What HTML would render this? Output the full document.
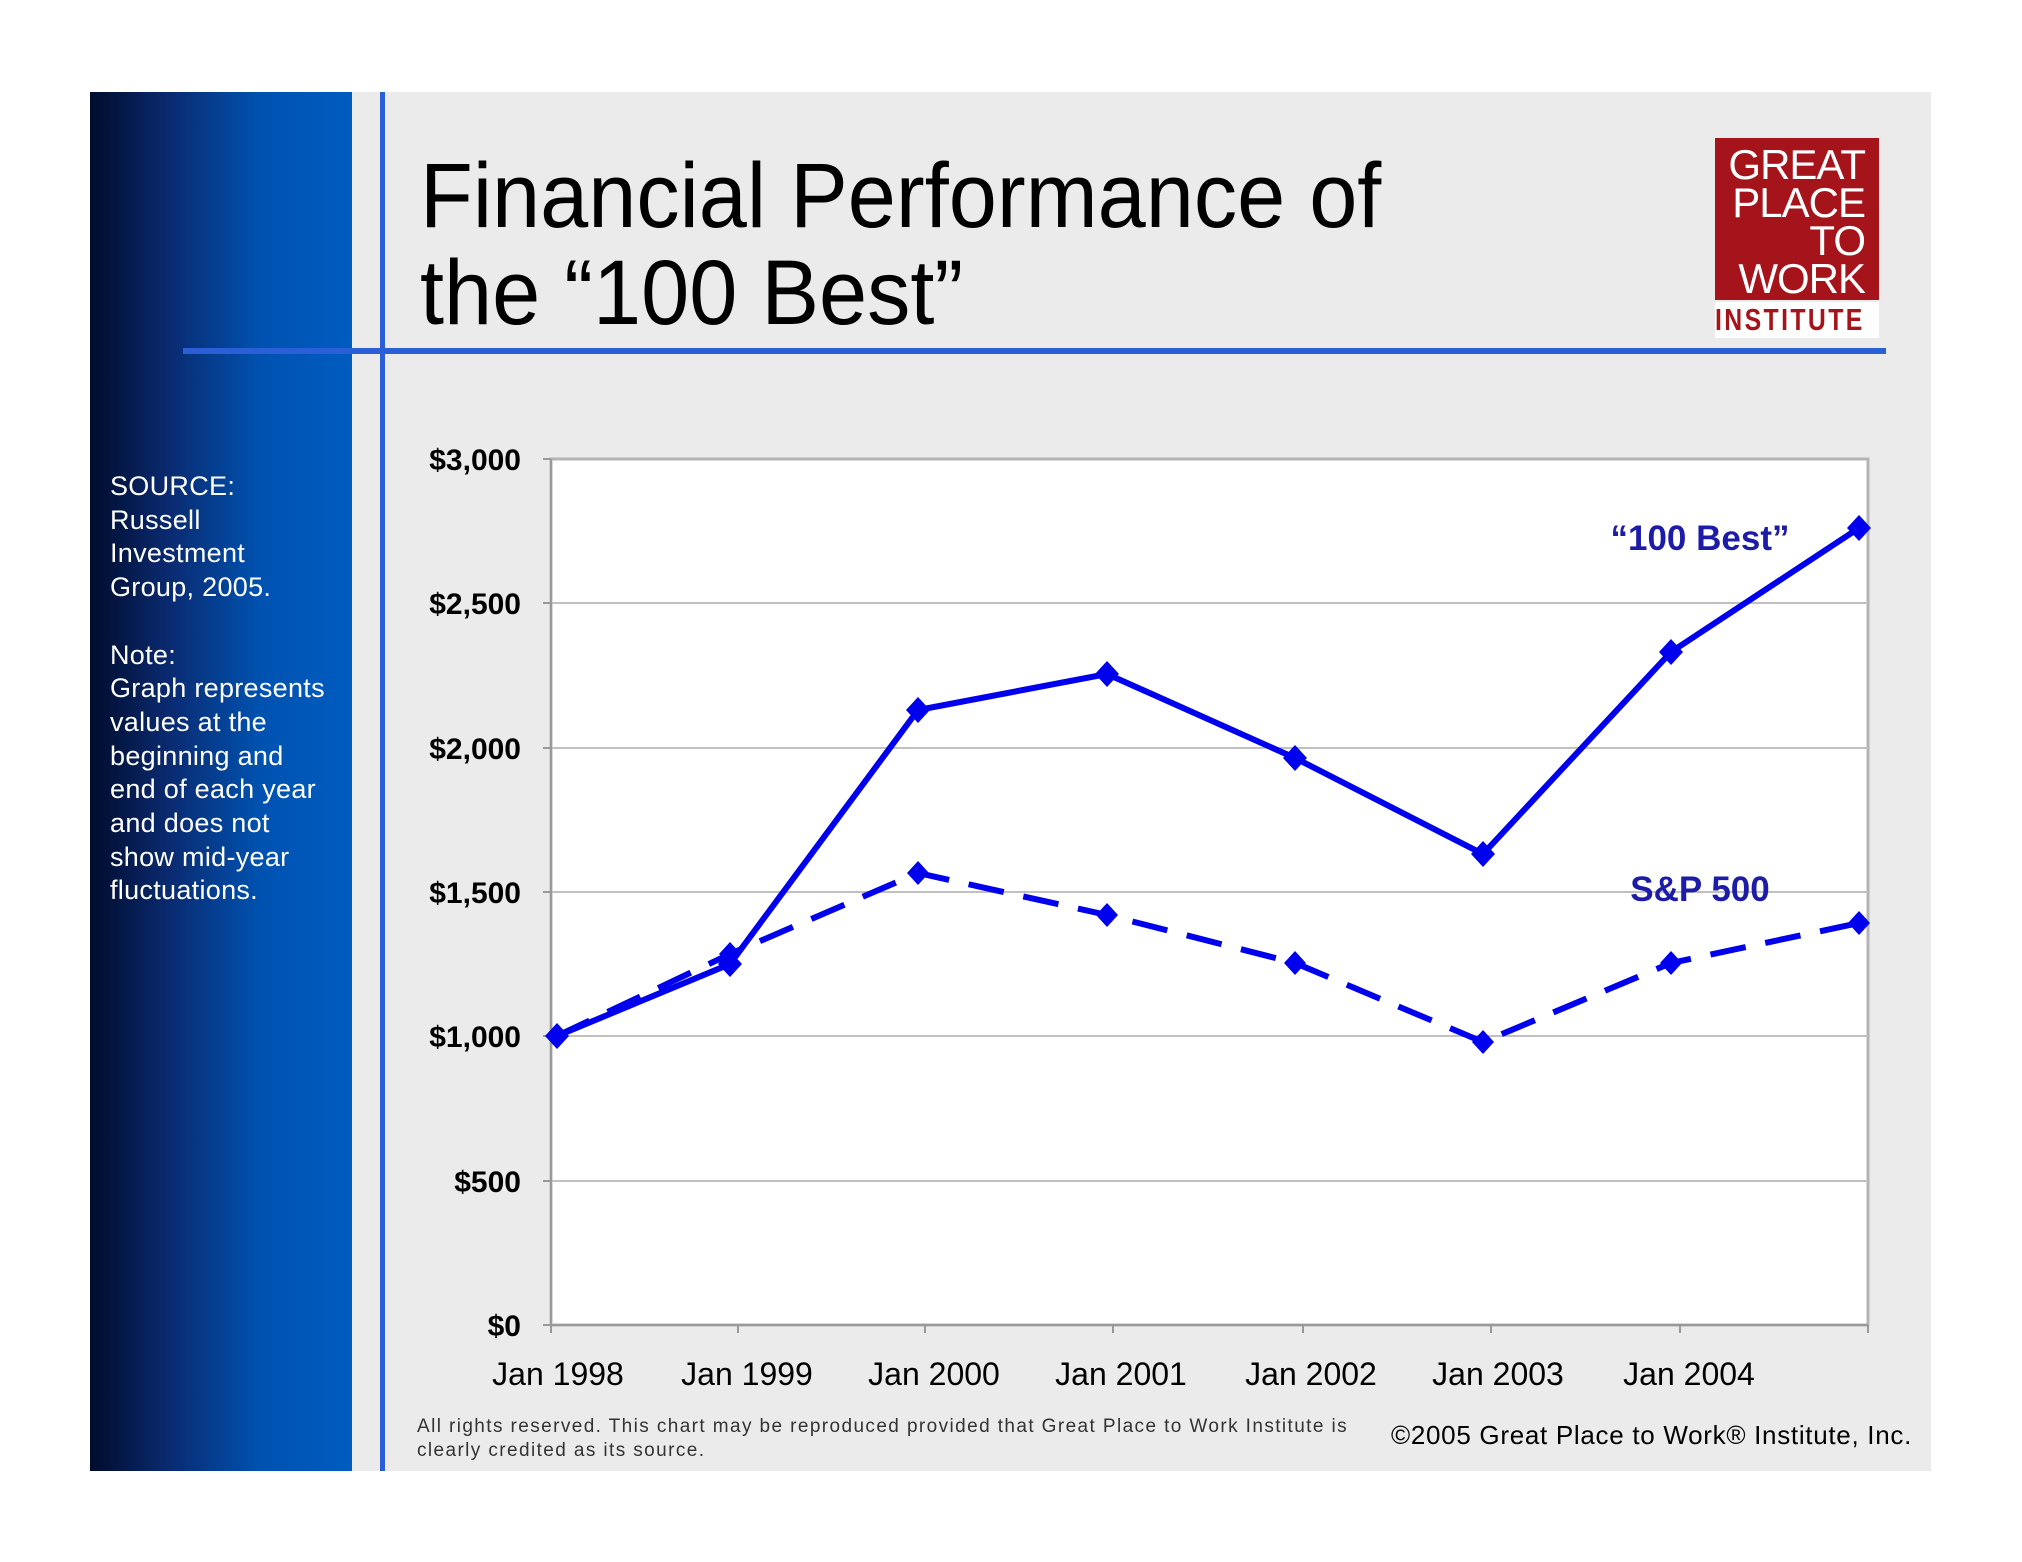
<!DOCTYPE html><html><head><style>
body{margin:0;width:2022px;height:1562px;background:#fff;position:relative;overflow:hidden;font-family:"Liberation Sans",sans-serif}
.a{position:absolute}
</style></head><body>
<div class="a" style="left:90px;top:92px;width:262px;height:1379px;background:linear-gradient(90deg,#000c2c 0%,#0a2a70 30%,#0052b0 65%,#005cc0 100%)"></div>
<div class="a" style="left:352px;top:92px;width:1579px;height:1379px;background:#ebebeb"></div>
<div class="a" style="left:380px;top:92px;width:5px;height:1379px;background:#2a5fd8"></div>
<div class="a" style="left:183px;top:348px;width:1703px;height:6px;background:#2a5fd8"></div>
<div class="a" style="left:420px;top:148px;font-size:92px;color:#000;line-height:97px;transform:scaleX(0.94);transform-origin:0 0;white-space:nowrap">Financial Performance of<br>the “100 Best”</div>
<div class="a" style="left:1715px;top:138px;width:164px;height:162px;background:#a5141a;color:#fff;font-size:42px;line-height:38px;text-align:right;box-sizing:border-box;padding:8px 14px 0 0;letter-spacing:-1px">GREAT<br>PLACE<br>TO<br>WORK</div>
<div class="a" style="left:1715px;top:302px;width:164px;height:36px;background:#fff;color:#a5141a;font-size:31px;font-weight:bold;line-height:36px;overflow:hidden;white-space:nowrap"><span style="display:inline-block;transform:scaleX(0.8);transform-origin:0 0;letter-spacing:3px">INSTITUTE</span></div>
<div class="a" style="left:110px;top:470px;color:#fff;font-size:27px;line-height:33.7px;letter-spacing:0.3px">SOURCE:<br>Russell<br>Investment<br>Group, 2005.<br><br>Note:<br>Graph represents<br>values at the<br>beginning and<br>end of each year<br>and does not<br>show mid-year<br>fluctuations.</div>
<svg class="a" style="left:0;top:0" width="2022" height="1562">
<rect x="551" y="459" width="1317" height="866" fill="#fff" stroke="#b4b4b4" stroke-width="3"/>
<g stroke="#c0c0c0" stroke-width="2">
<line x1="551" x2="1868" y1="603" y2="603"/><line x1="551" x2="1868" y1="748" y2="748"/><line x1="551" x2="1868" y1="892" y2="892"/><line x1="551" x2="1868" y1="1036" y2="1036"/><line x1="551" x2="1868" y1="1181" y2="1181"/></g>
<g stroke="#999" stroke-width="2"><line x1="551" x2="551" y1="459" y2="1325"/><line x1="551" x2="1868" y1="1325" y2="1325"/>
<line x1="543" x2="551" y1="459" y2="459"/><line x1="543" x2="551" y1="603" y2="603"/><line x1="543" x2="551" y1="748" y2="748"/><line x1="543" x2="551" y1="892" y2="892"/><line x1="543" x2="551" y1="1036" y2="1036"/><line x1="543" x2="551" y1="1181" y2="1181"/><line x1="543" x2="551" y1="1325" y2="1325"/>
<line x1="551" x2="551" y1="1325" y2="1333"/><line x1="738" x2="738" y1="1325" y2="1333"/><line x1="925" x2="925" y1="1325" y2="1333"/><line x1="1113" x2="1113" y1="1325" y2="1333"/><line x1="1303" x2="1303" y1="1325" y2="1333"/><line x1="1491" x2="1491" y1="1325" y2="1333"/><line x1="1680" x2="1680" y1="1325" y2="1333"/><line x1="1868" x2="1868" y1="1325" y2="1333"/></g>
<g font-size="30" font-weight="bold" text-anchor="end" fill="#000">
<text x="521" y="470">$3,000</text><text x="521" y="614">$2,500</text><text x="521" y="759">$2,000</text><text x="521" y="903">$1,500</text><text x="521" y="1047">$1,000</text><text x="521" y="1192">$500</text><text x="521" y="1336">$0</text></g>
<g font-size="32" text-anchor="middle" fill="#000">
<text x="558" y="1385">Jan 1998</text><text x="747" y="1385">Jan 1999</text><text x="934" y="1385">Jan 2000</text><text x="1121" y="1385">Jan 2001</text><text x="1311" y="1385">Jan 2002</text><text x="1498" y="1385">Jan 2003</text><text x="1689" y="1385">Jan 2004</text></g>
<polyline fill="none" stroke="#0000ee" stroke-width="6" stroke-dasharray="36,20" points="557,1036 730,954 918,873 1107,915 1295,963 1483,1042 1671,963 1859,923"/>
<polyline fill="none" stroke="#0000ee" stroke-width="6" points="557,1036 730,964 918,710 1107,674 1295,758 1483,854 1671,652 1859,528"/>
<g fill="#0000ee">
<path d="M0,-13 L12,0 L0,13 L-12,0Z" transform="translate(557,1036)"/>
<path d="M0,-13 L12,0 L0,13 L-12,0Z" transform="translate(730,964)"/><path d="M0,-13 L12,0 L0,13 L-12,0Z" transform="translate(918,710)"/><path d="M0,-13 L12,0 L0,13 L-12,0Z" transform="translate(1107,674)"/><path d="M0,-13 L12,0 L0,13 L-12,0Z" transform="translate(1295,758)"/><path d="M0,-13 L12,0 L0,13 L-12,0Z" transform="translate(1483,854)"/><path d="M0,-13 L12,0 L0,13 L-12,0Z" transform="translate(1671,652)"/><path d="M0,-13 L12,0 L0,13 L-12,0Z" transform="translate(1859,528)"/>
<path d="M0,-12 L11,0 L0,12 L-11,0Z" transform="translate(730,954)"/><path d="M0,-12 L11,0 L0,12 L-11,0Z" transform="translate(918,873)"/><path d="M0,-12 L11,0 L0,12 L-11,0Z" transform="translate(1107,915)"/><path d="M0,-12 L11,0 L0,12 L-11,0Z" transform="translate(1295,963)"/><path d="M0,-12 L11,0 L0,12 L-11,0Z" transform="translate(1483,1042)"/><path d="M0,-12 L11,0 L0,12 L-11,0Z" transform="translate(1671,963)"/><path d="M0,-12 L11,0 L0,12 L-11,0Z" transform="translate(1859,923)"/></g>
<g font-size="35" font-weight="bold" fill="#1c1ca8" text-anchor="middle"><text x="1700" y="550">“100 Best”</text><text x="1700" y="901">S&amp;P 500</text></g>
<g font-size="19" fill="#333" letter-spacing="1.4"><text x="417" y="1432">All rights reserved.  This chart may be reproduced provided that Great Place to Work Institute is</text><text x="417" y="1456">clearly credited as its source.</text></g>
<text x="1391" y="1444" font-size="26" fill="#000" letter-spacing="0.7">©2005 Great Place to Work® Institute, Inc.</text>
</svg>
</body></html>
